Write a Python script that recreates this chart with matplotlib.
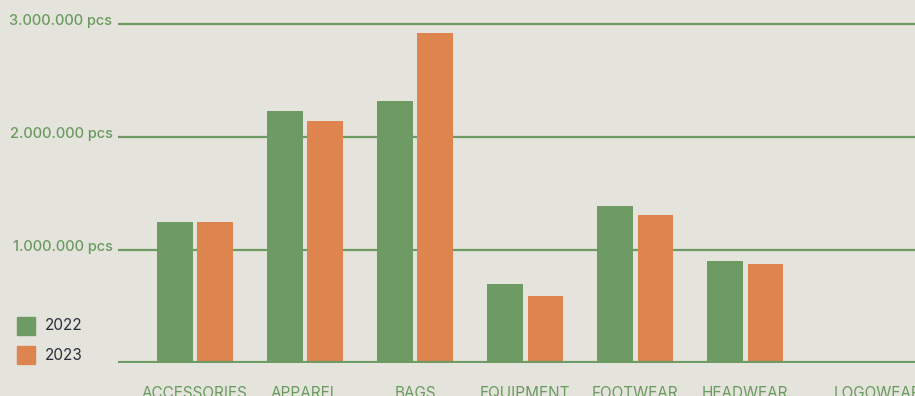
import numpy as np
import matplotlib
matplotlib.use("Agg")
import matplotlib.pyplot as plt
from matplotlib.patches import Rectangle

# data (pieces)
categories = ['ACCESSORIES', 'APPAREL', 'BAGS', 'EQUIPMENT', 'FOOTWEAR', 'HEADWEAR', 'LOGOWEAR']
sales_2022 = [1250000, 2230000, 2320000, 700000, 1390000, 900000, 0]
sales_2023 = [1250000, 2140000, 2920000, 590000, 1310000, 875000, 0]
grid_values = [1000000, 2000000, 3000000]
grid_labels = ['1.000.000 pcs', '2.000.000 pcs', '3.000.000 pcs']
series_names = ['2022', '2023']

GREEN = '#6e9b63'
ORANGE = '#de844e'
BG = '#e4e4dc'
TEXT_GREEN = '#6a9a5f'
TEXT_DARK = '#2a2f3a'

plt.rcParams['font.family'] = ['Inter', 'DejaVu Sans']

fig = plt.figure(figsize=(9.15, 3.96), dpi=100)
fig.patch.set_facecolor(BG)
# axes: left at x=118px, baseline at y=363px, runs off the right edge
ax = fig.add_axes([118 / 915, 33 / 396, 797 / 915, 363 / 396])
ax.set_facecolor('none')

x = np.arange(len(categories))
w = 0.327
off = 0.186
ax.bar(x - off, sales_2022, width=w, color=GREEN, zorder=3)
ax.bar(x + off, sales_2023, width=w, color=ORANGE, zorder=3)

# gridlines
for v in grid_values:
    ax.axhline(v, color=GREEN, lw=1.6, zorder=1)
ax.axhline(0, color=GREEN, lw=3.0, zorder=4)

ax.set_xlim(-0.70, 6.545)
ax.set_ylim(0, 3212000)
for s in ax.spines.values():
    s.set_visible(False)
ax.set_xticks([])
ax.set_yticks([])

# y labels
for v, lab in zip(grid_values, grid_labels):
    ax.annotate(lab, xy=(0, v), xycoords=('axes fraction', 'data'),
                xytext=(-4, 2), textcoords='offset points',
                ha='right', va='center', fontsize=10.5, color=TEXT_GREEN,
                fontweight='medium', annotation_clip=False)

# category labels, cut by the bottom edge like in the original
# (last one sits a bit to the right)
for i, c in enumerate(categories):
    dx = 16 if c == 'LOGOWEAR' else 0
    ax.annotate(c, xy=(i, 0), xycoords='data', xytext=(dx, -22),
                textcoords='offset points', ha='center', va='center',
                fontsize=11, color=TEXT_GREEN, annotation_clip=False)

# legend drawn by hand in pixel positions
for k, (name, col) in enumerate(zip(series_names, [GREEN, ORANGE])):
    top = 317 + 29 * k
    fig.patches.append(Rectangle((17 / 915, 1 - (top + 18) / 396), 18 / 915, 18 / 396,
                                 transform=fig.transFigure, color=col))
    fig.text(45 / 915, 1 - (top + 9) / 396, name, ha='left', va='center',
             fontsize=11, color=TEXT_DARK)

fig.savefig('out.png', dpi=100, facecolor=BG)
